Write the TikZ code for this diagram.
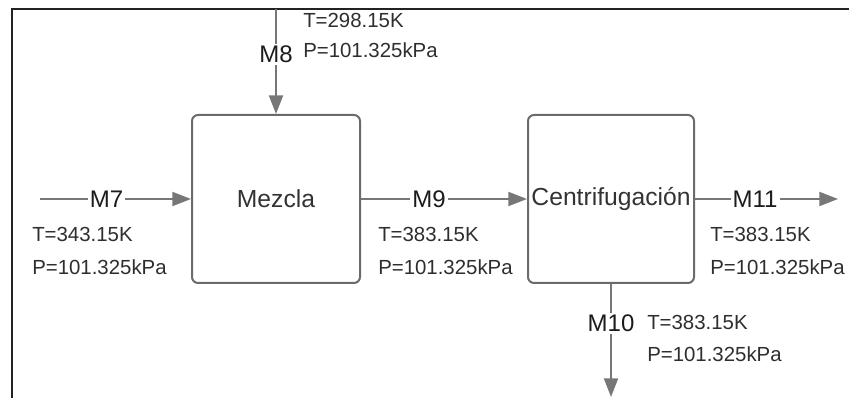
\documentclass[tikz,border=0pt]{standalone}
\usepackage{fontspec}
\setmainfont{Liberation Sans}
\usetikzlibrary{arrows.meta}
\definecolor{boxgray}{HTML}{6B6B6B}
\definecolor{linegray}{HTML}{777777}
\definecolor{txtgray}{HTML}{333333}
\definecolor{tpcol}{HTML}{2E2E2E}
\definecolor{mcol}{HTML}{1C1C1C}
\definecolor{framecol}{HTML}{222222}
\begin{document}
\begin{tikzpicture}[x=0.75pt,y=-0.75pt,
  blk/.style={draw=boxgray, line width=1.5pt, rounded corners=4.5pt, minimum height=126pt,
    inner sep=0pt, text=txtgray, font=\fontsize{18.5}{22}\selectfont},
  flow/.style={draw=linegray, line width=1.5pt, -{Triangle[length=14pt,width=10.5pt]}},
  mlab/.style={fill=white, inner sep=1.5pt, text=mcol, font=\fontsize{18}{20}\selectfont},
  tp/.style={anchor=west, inner sep=0pt, text=tpcol, font=\fontsize{15.3}{18}\selectfont},
  framestyle/.style={draw=framecol, line width=1.6pt}
]
\useasboundingbox (0,0) rectangle (849,398);
% cut-off caption
\begin{scope}
  \clip (0,0) rectangle (849,398);
  \node[anchor=base west, inner sep=0pt, font=\bfseries\fontsize{18.5}{22}\selectfont] (cap) at (0,-5)
    {Figura 3. Diagrama de bloques de la unidad de descarbonatación};
\end{scope}
% frame
\coordinate (fr1) at (849,9);
\coordinate (fr2) at (12,9);
\coordinate (fr3) at (12,398);
\draw[framestyle] (fr1) -- (fr2) -- (fr3);

% blocks
\node[blk, minimum width=126pt] (mez) at (276,199) {Mezcla};
\node[blk, minimum width=124.5pt] (cen) at (611,199) {Centrifugación};

% stream ends
\coordinate (m7s) at (40,199);
\coordinate (m8s) at (276,9);
\coordinate (m11e) at (838,199);
\coordinate (m10e) at (611,397);

% streams
\draw[flow] (m7s) -- node[mlab, pos=0.44] (m7) {M7} (mez.west);
\draw[flow] (m8s) -- node[mlab, pos=0.43] (m8) {M8} (mez.north);
\draw[flow] (mez.east) -- node[mlab, pos=0.41] (m9) {M9} (cen.west);
\draw[flow] (cen.east) -- node[mlab, pos=0.42] (m11) {M11} (m11e);
\draw[flow] (cen.south) -- node[mlab, pos=0.35] (m10) {M10} (m10e);

% conditions
\node[tp] (t7) at (32,234) {T=343.15K};
\node[tp] (p7) at (32,267) {P=101.325kPa};
\node[tp] (t8) at (303,20) {T=298.15K};
\node[tp] (p8) at (303,50) {P=101.325kPa};
\node[tp] (t9) at (378,234) {T=383.15K};
\node[tp] (p9) at (378,267) {P=101.325kPa};
\node[tp] (t11) at (710,234) {T=383.15K};
\node[tp] (p11) at (710,267) {P=101.325kPa};
\node[tp] (t10) at (647,322) {T=383.15K};
\node[tp] (p10) at (647,354) {P=101.325kPa};
\end{tikzpicture}
\end{document}
